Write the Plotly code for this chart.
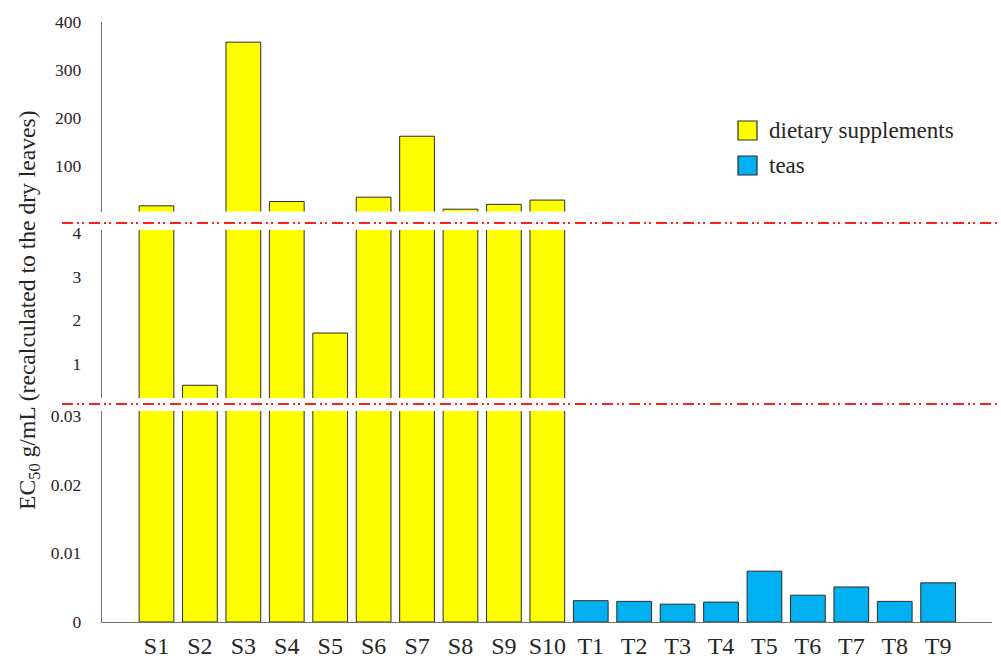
import plotly.graph_objects as go

# EC50 values (g/mL, recalculated to the dry leaves)
supp_labels = ["S1", "S2", "S3", "S4", "S5", "S6", "S7", "S8", "S9", "S10"]
supp_values = [17, 0.5, 358, 26, 1.7, 35, 162, 10, 20, 29]
tea_labels = ["T1", "T2", "T3", "T4", "T5", "T6", "T7", "T8", "T9"]
tea_values = [0.0031, 0.0030, 0.0026, 0.0029, 0.0074, 0.0039, 0.0051, 0.0030, 0.0057]

low_ticks = [0, 0.01, 0.02, 0.03]
low_ticktext = ["0", "0.01", "0.02", "0.03"]
mid_ticks = [1, 2, 3, 4]
mid_ticktext = ["1", "2", "3", "4"]
high_ticks = [100, 200, 300, 400]
high_ticktext = ["100", "200", "300", "400"]

categories = supp_labels + tea_labels

W, H = 1001, 659
ML, MR, MT, MB = 102, 9, 22, 37
PW, PH = W - ML - MR, H - MT - MB
Y0 = H - MB  # pixel row of the plot bottom


def py(p):
    """Pixel row -> paper y."""
    return (Y0 - p) / PH


def px(p):
    """Pixel column -> paper x."""
    return (p - ML) / PW


FONT = "Liberation Serif"
TXT = "#262626"
AX = "#707070"
YELLOW = "#FFFF00"
BLUE = "#00B0F0"
EDGE = "#2b2b2b"

fig = go.Figure()

# supplements drawn on all three axis segments, clipped by each segment's range
for yax in ["y", "y2", "y3"]:
    fig.add_trace(go.Bar(
        x=supp_labels, y=supp_values, xaxis="x", yaxis=yax, width=0.8,
        marker=dict(color=YELLOW, line=dict(color=EDGE, width=1)),
        showlegend=False, name="dietary supplements",
    ))
fig.add_trace(go.Bar(
    x=tea_labels, y=tea_values, xaxis="x", yaxis="y", width=0.8,
    marker=dict(color=BLUE, line=dict(color=EDGE, width=1)),
    showlegend=False, name="teas",
))


def y_style(vals, text):
    return dict(showgrid=False, zeroline=False, showline=True, linecolor=AX,
                linewidth=1.3, ticks="", automargin=False,
                tickmode="array", tickvals=vals, ticktext=text,
                tickfont=dict(family=FONT, size=17.5, color=TXT),
                ticklabelstandoff=16, fixedrange=True, anchor="x")


# segment geometry: (bottom px, top px) and value range
low_dom = [py(622), py(411)]
low_rng = [0, (622 - 411) / 6870.0]
mid_dom = [py(398), py(230)]
mid_rng = [(407 - 398) / 43.5, (407 - 230) / 43.5]
top_rng = [5, 400]
top_dom = [py(214 - 5 * 0.48), py(22)]

fig.update_layout(
    width=W, height=H,
    font=dict(family=FONT, size=17, color=TXT),
    margin=dict(l=ML, r=MR, t=MT, b=MB, autoexpand=False),
    paper_bgcolor="white", plot_bgcolor="white",
    barmode="overlay",
    xaxis=dict(
        type="category", categoryorder="array", categoryarray=categories,
        range=[-1.255, 19.24], showgrid=False, zeroline=False,
        showline=True, linecolor=AX, linewidth=1.3, ticks="",
        tickfont=dict(family=FONT, size=24, color=TXT), automargin=False,
        ticklabelstandoff=2, anchor="y", fixedrange=True,
    ),
    yaxis=dict(domain=low_dom, range=low_rng, **y_style(low_ticks, low_ticktext)),
    yaxis2=dict(domain=mid_dom, range=mid_rng, **y_style(mid_ticks, mid_ticktext)),
    yaxis3=dict(domain=top_dom, range=top_rng, **y_style(high_ticks, high_ticktext)),
    showlegend=False,
)

# axis break markers
for yb in [223, 404]:
    fig.add_shape(type="line", xref="paper", yref="paper",
                  x0=px(62), x1=px(998), y0=py(yb), y1=py(yb),
                  line=dict(color="#FF1F1F", width=2,
                            dash="11px,4px,2px,3px,2px,5px"))

# axis title
fig.add_annotation(
    text="EC<sub>50</sub> g/mL (recalculated to the dry leaves)",
    xref="paper", yref="paper", x=px(29), y=py(310),
    xanchor="center", yanchor="middle", textangle=-90, showarrow=False,
    font=dict(family=FONT, size=23.6, color=TXT),
)

# legend
legend_items = [("dietary supplements", YELLOW, 121, 140),
                ("teas", BLUE, 156, 175)]
for label, color, top, bot in legend_items:
    fig.add_shape(type="rect", xref="paper", yref="paper",
                  x0=px(738), x1=px(757), y0=py(bot), y1=py(top),
                  fillcolor=color, line=dict(color=EDGE, width=1.2))
    fig.add_annotation(text=label, xref="paper", yref="paper",
                       x=px(767), y=py((top + bot) / 2), xanchor="left",
                       yanchor="middle", showarrow=False,
                       font=dict(family=FONT, size=23, color=TXT))

fig.write_html("out.html")
